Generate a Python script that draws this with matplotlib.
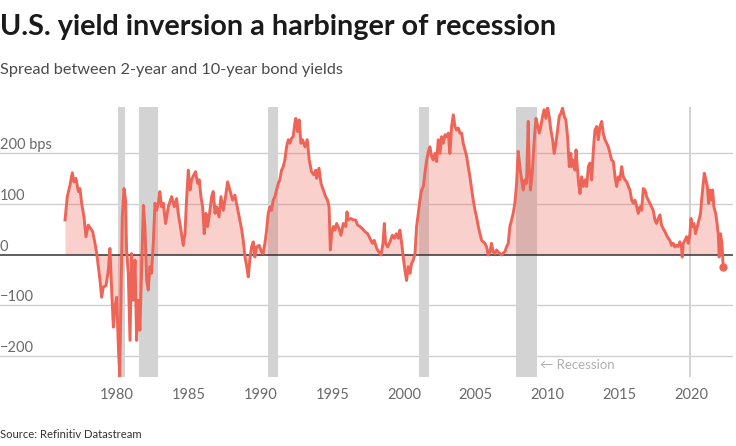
import matplotlib
matplotlib.use('Agg')
import matplotlib.pyplot as plt
import matplotlib.transforms as mtransforms

plt.rcParams['font.family'] = ['Lato', 'DejaVu Sans']

# ---- data ----
years = [
    1976.38, 1976.54, 1976.73, 1976.89, 1977.00, 1977.14, 1977.31, 1977.42, 1977.54, 1977.70,
    1977.84, 1978.00, 1978.17, 1978.31, 1978.47, 1978.59, 1978.70, 1978.82, 1978.93, 1979.05,
    1979.24, 1979.40, 1979.51, 1979.63, 1979.75, 1979.86, 1979.98, 1980.10, 1980.19, 1980.28,
    1980.37, 1980.49, 1980.60, 1980.67, 1980.79, 1980.91, 1981.02, 1981.14, 1981.26, 1981.37,
    1981.49, 1981.60, 1981.72, 1981.84, 1981.95, 1982.07, 1982.18, 1982.30, 1982.41, 1982.53,
    1982.65, 1982.76, 1982.88, 1982.99, 1983.11, 1983.23, 1983.39, 1983.58, 1983.81, 1984.00,
    1984.16, 1984.27, 1984.46, 1984.62, 1984.74, 1984.85, 1984.97, 1985.09, 1985.20, 1985.36,
    1985.48, 1985.62, 1985.74, 1985.85, 1985.97, 1986.08, 1986.20, 1986.32, 1986.48, 1986.60,
    1986.71, 1986.83, 1986.94, 1987.11, 1987.25, 1987.41, 1987.57, 1987.71, 1987.87, 1988.06,
    1988.22, 1988.33, 1988.52, 1988.68, 1988.80, 1988.92, 1989.03, 1989.15, 1989.26, 1989.38,
    1989.50, 1989.61, 1989.73, 1989.91, 1990.08, 1990.19, 1990.31, 1990.43, 1990.54, 1990.66,
    1990.77, 1990.89, 1991.01, 1991.12, 1991.24, 1991.35, 1991.47, 1991.59, 1991.70, 1991.82,
    1991.94, 1992.05, 1992.17, 1992.28, 1992.40, 1992.47, 1992.59, 1992.70, 1992.82, 1992.93,
    1993.10, 1993.26, 1993.40, 1993.56, 1993.72, 1993.86, 1993.92, 1994.08, 1994.22, 1994.38,
    1994.54, 1994.68, 1994.78, 1994.87, 1994.96, 1995.08, 1995.19, 1995.31, 1995.47, 1995.61,
    1995.77, 1995.94, 1996.03, 1996.12, 1996.31, 1996.47, 1996.63, 1996.77, 1996.94, 1997.10,
    1997.28, 1997.47, 1997.63, 1997.80, 1997.93, 1998.10, 1998.26, 1998.40, 1998.54, 1998.63,
    1998.72, 1998.86, 1999.03, 1999.19, 1999.33, 1999.47, 1999.61, 1999.72, 1999.84, 1999.95,
    2000.07, 2000.18, 2000.30, 2000.42, 2000.53, 2000.65, 2000.77, 2000.88, 2001.00, 2001.11,
    2001.23, 2001.35, 2001.46, 2001.58, 2001.70, 2001.81, 2001.93, 2002.04, 2002.16, 2002.28,
    2002.39, 2002.51, 2002.62, 2002.74, 2002.86, 2002.97, 2003.09, 2003.20, 2003.32, 2003.44,
    2003.55, 2003.67, 2003.79, 2003.90, 2004.02, 2004.13, 2004.25, 2004.37, 2004.48, 2004.60,
    2004.71, 2004.83, 2004.95, 2005.06, 2005.18, 2005.30, 2005.41, 2005.53, 2005.64, 2005.76,
    2005.87, 2005.99, 2006.10, 2006.22, 2006.34, 2006.45, 2006.57, 2006.69, 2006.80, 2006.92,
    2007.03, 2007.15, 2007.27, 2007.38, 2007.50, 2007.61, 2007.73, 2007.85, 2007.96, 2008.08,
    2008.20, 2008.31, 2008.43, 2008.54, 2008.66, 2008.73, 2008.82, 2008.94, 2009.08, 2009.20,
    2009.31, 2009.43, 2009.54, 2009.66, 2009.77, 2009.89, 2010.01, 2010.12, 2010.24, 2010.36,
    2010.47, 2010.59, 2010.70, 2010.82, 2010.94, 2011.05, 2011.17, 2011.28, 2011.40, 2011.52,
    2011.63, 2011.69, 2011.80, 2011.92, 2011.99, 2012.08, 2012.17, 2012.27, 2012.38, 2012.50,
    2012.62, 2012.73, 2012.85, 2012.96, 2013.08, 2013.20, 2013.31, 2013.43, 2013.54, 2013.66,
    2013.78, 2013.89, 2014.01, 2014.13, 2014.24, 2014.36, 2014.47, 2014.59, 2014.71, 2014.82,
    2014.94, 2015.05, 2015.17, 2015.29, 2015.40, 2015.52, 2015.64, 2015.75, 2015.87, 2015.98,
    2016.10, 2016.22, 2016.33, 2016.45, 2016.56, 2016.68, 2016.80, 2016.91, 2017.03, 2017.14,
    2017.26, 2017.37, 2017.49, 2017.60, 2017.72, 2017.84, 2017.95, 2018.07, 2018.19, 2018.30,
    2018.42, 2018.53, 2018.65, 2018.77, 2018.88, 2019.00, 2019.11, 2019.23, 2019.35, 2019.39,
    2019.46, 2019.58, 2019.70, 2019.81, 2019.93, 2020.00, 2020.09, 2020.21, 2020.32, 2020.44,
    2020.55, 2020.67, 2020.74, 2020.86, 2020.93, 2021.04, 2021.14, 2021.23, 2021.32, 2021.41,
    2021.51, 2021.60, 2021.72, 2021.79, 2021.90, 2021.97, 2022.06, 2022.16, 2022.25,
]
spread_bps = [
    68, 114, 137, 161, 143, 150, 124, 130, 101, 74,
    35, 58, 51, 45, 22, 2, -24, -51, -84, -64,
    -61, -31, 12, -70, -143, -103, -84, -182, -240, -90,
    74, 130, 107, 9, -37, -169, 2, -90, -11, -169,
    -90, -149, -24, 97, 55, -51, -70, -24, -37, 22,
    101, 87, 101, 124, 94, 101, 61, 94, 114, 94,
    110, 81, 48, 18, 41, 107, 166, 127, 147, 157,
    163, 140, 147, 114, 94, 41, 81, 55, 87, 114,
    124, 81, 94, 74, 114, 87, 114, 143, 127, 107,
    117, 101, 74, 51, 28, -5, -21, -44, -11, 15,
    25, -5, 15, 18, 5, 2, 22, 48, 81, 94,
    87, 107, 114, 127, 140, 147, 166, 173, 186, 212,
    226, 219, 229, 232, 259, 268, 242, 265, 219, 226,
    212, 226, 186, 163, 157, 166, 150, 170, 140, 127,
    114, 107, 94, 9, 41, 55, 48, 61, 51, 38,
    61, 55, 84, 68, 71, 68, 68, 58, 55, 51,
    45, 41, 32, 22, 28, 12, 5, -1, 22, 61,
    22, 15, 25, 38, 32, 41, 32, 48, 22, -5,
    -31, -51, -24, -37, -18, -11, 2, 55, 81, 107,
    127, 134, 160, 186, 203, 212, 193, 186, 199, 183,
    226, 199, 232, 219, 236, 232, 239, 199, 252, 275,
    252, 245, 249, 239, 239, 219, 206, 193, 173, 153,
    130, 107, 87, 74, 55, 41, 28, 25, 22, 15,
    -1, 5, 22, 5, 2, 9, 5, 2, -1, 3,
    5, 15, 22, 55, 68, 81, 101, 140, 203, 173,
    147, 127, 147, 140, 262, 173, 127, 160, 226, 268,
    255, 239, 252, 272, 285, 268, 290, 272, 245, 226,
    199, 219, 245, 272, 278, 288, 272, 265, 232, 173,
    199, 173, 186, 166, 206, 173, 140, 120, 153, 134,
    147, 134, 173, 180, 147, 206, 245, 252, 226, 252,
    262, 239, 226, 219, 212, 199, 186, 183, 153, 134,
    153, 147, 173, 153, 147, 143, 134, 127, 107, 101,
    107, 94, 81, 94, 87, 130, 127, 114, 107, 101,
    94, 87, 68, 61, 71, 78, 58, 51, 45, 38,
    32, 28, 18, 22, 15, 18, 16, 25, 12, -5,
    22, 28, 35, 22, 41, 71, 55, 61, 41, 55,
    68, 81, 107, 140, 160, 147, 134, 101, 127, 107,
    127, 94, 81, 68, 41, -5, 41, 22, -25,
]
recession_start = [1980.08, 1981.55, 1990.52, 2001.07, 2007.83, 2019.88]
recession_end = [1980.55, 1982.84, 1991.20, 2001.74, 2009.27, 2020.03]
ytick_values = [-200, -100, 0, 100, 200]
ytick_labels = ['\u2212200', '\u2212100', '0', '100', '200 bps']
xtick_years = [1980, 1985, 1990, 1995, 2000, 2005, 2010, 2015, 2020]

LINE = '#ee6457'
TXT = '#6a6a6a'

W, H = 736, 446
fig = plt.figure(figsize=(W / 100, H / 100), dpi=100)
ax = fig.add_axes([0, 1 - 376.7 / H, 733 / W, (376.7 - 106.7) / H])
ax.set_xlim(1971.85, 2022.93)
ax.set_ylim(-240.5, 291)

for s in ax.spines.values():
    s.set_visible(False)

# gridlines
for v in ytick_values:
    if v != 0:
        ax.axhline(v, color='#cfcfcf', lw=1.0, zorder=1)

# recession bands
for s0, s1 in zip(recession_start, recession_end):
    ax.axvspan(s0, s1, color='#d3d3d3', lw=0, zorder=2)

ax.fill_between(years, spread_bps, 0, color=LINE, alpha=0.3, lw=0, zorder=3)
ax.axhline(0, color='#333333', lw=1.1, zorder=4)
ax.plot(years, spread_bps, color=LINE, lw=2.1, zorder=5, solid_joinstyle='round')
ax.scatter([years[-1]], [spread_bps[-1]], s=36, color=LINE, zorder=6, lw=0)

# y tick labels, inside, above gridlines
ax.set_yticks([])
trans = mtransforms.offset_copy(ax.get_yaxis_transform(), fig=fig, x=0, y=4, units='dots')
for v, lab in zip(ytick_values, ytick_labels):
    ax.text(0.0, v, lab, transform=trans, ha='left', va='baseline',
            fontsize=10.5, color=TXT, zorder=7)

ax.set_xticks(xtick_years)
ax.set_xticklabels([str(y) for y in xtick_years])
ax.tick_params(axis='x', length=0, pad=8, labelsize=10.5, labelcolor=TXT)

ax.text(2009.5, -218, '\u2190 Recession', ha='left', va='center',
        fontsize=9.5, color='#b0b0b0', zorder=7)

# titles
def fit(t, target_px):
    fig.canvas.draw()
    r = fig.canvas.get_renderer()
    w = t.get_window_extent(renderer=r).width
    t.set_fontsize(t.get_fontsize() * target_px / w)

t1 = fig.text(0.0, 1 - 27 / H, 'U.S. yield inversion a harbinger of recession',
              ha='left', va='center', fontsize=20, fontweight='bold', color='#1a1a1a')
t2 = fig.text(0.0, 1 - 70 / H, 'Spread between 2-year and 10-year bond yields',
              ha='left', va='center', fontsize=12, color='#4a4a4a')
t3 = fig.text(0.0, 1 - 435 / H, 'Source: Refinitiv Datastream',
              ha='left', va='center', fontsize=9, color='#333333')
fit(t1, 556)
fit(t2, 342)
fit(t3, 143)

fig.savefig('out.png', dpi=100)
